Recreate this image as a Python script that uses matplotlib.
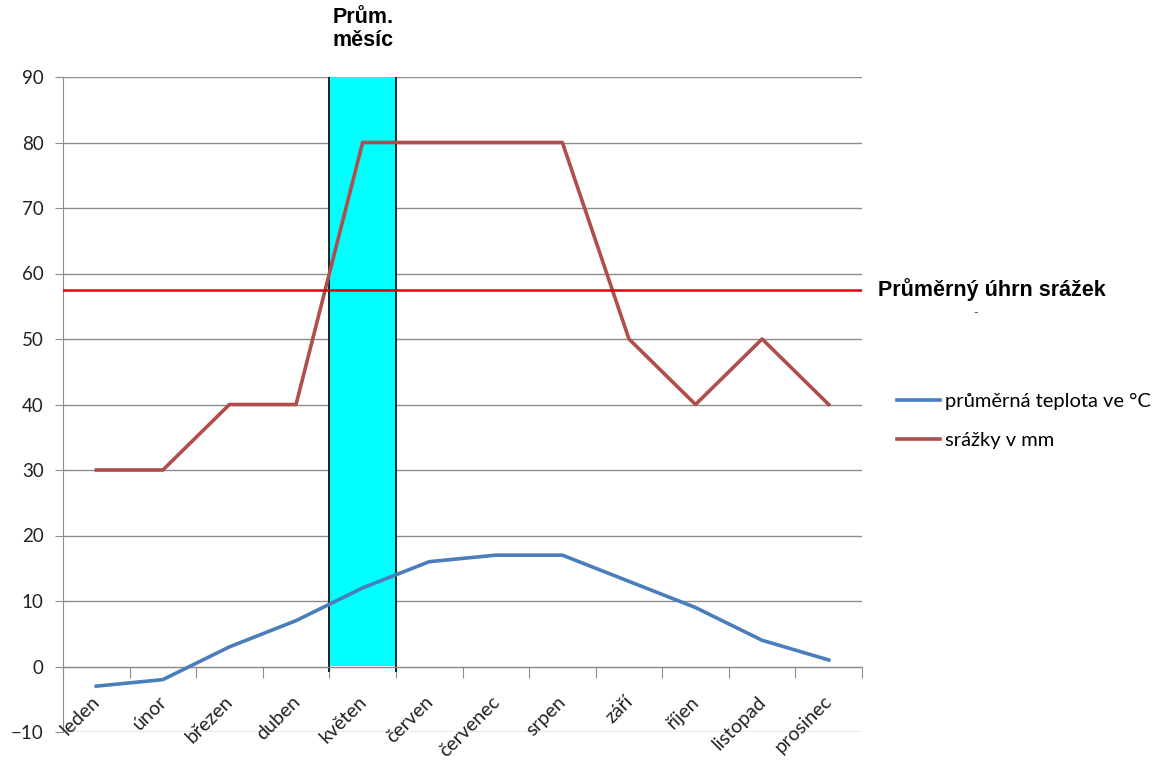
import matplotlib
matplotlib.use("Agg")
import matplotlib.pyplot as plt
import matplotlib.transforms as mtransforms
import numpy as np

months = ["leden", "únor", "březen", "duben", "květen", "červen",
          "červenec", "srpen", "září", "říjen", "listopad", "prosinec"]
temperature = [-3, -2, 3, 7, 12, 16, 17, 17, 13, 9, 4, 1]
precipitation = [30, 30, 40, 40, 80, 80, 80, 80, 50, 40, 50, 40]
avg_precip_level = 57.5
highlight_month = "květen"
y_ticks = list(range(-10, 91, 10))

plt.rcParams["font.family"] = ["Lato", "DejaVu Sans"]

fig = plt.figure(figsize=(11.70, 7.61), dpi=100)
ax = fig.add_axes([63 / 1170, 1 - 732 / 761, (862 - 63) / 1170, (732 - 77) / 761])

x = np.arange(len(months))
ax.set_xlim(-0.5, len(months) - 0.5)
ax.set_ylim(-10, 90)

# horizontal gridlines
ax.set_yticks(y_ticks)
ax.yaxis.grid(True, color="#8c8c8c", linewidth=1.0)
ax.set_axisbelow(True)

# highlighted month column
hi = months.index(highlight_month)
ax.fill_between([hi - 0.5, hi + 0.5], 0, 90, color="#00FFFF", zorder=1, linewidth=0)
ax.vlines([hi - 0.5, hi + 0.5], -0.9, 90, color="black", linewidth=1.2, zorder=2)

# series
ax.plot(x, temperature, color="#4A7EBB", linewidth=2.6, zorder=4,
        solid_joinstyle="round", label="průměrná teplota ve °C")
ax.plot(x, precipitation, color="#B04E4B", linewidth=2.6, zorder=4,
        solid_joinstyle="round", label="srážky v mm")

# average precipitation line
ax.axhline(avg_precip_level, color="#E0000F", linewidth=1.8, zorder=5)

# spines: category axis crosses at zero
for s in ["top", "right"]:
    ax.spines[s].set_visible(False)
ax.spines["left"].set_color("#8c8c8c")
ax.spines["bottom"].set_position(("data", 0))
ax.spines["bottom"].set_color("#8c8c8c")

ax.tick_params(axis="y", length=6, color="#8c8c8c", labelsize=13.5,
               labelcolor="#222222", pad=8)
ax.set_xticks(np.arange(-0.5, len(months), 1.0))
ax.set_xticklabels([])
ax.tick_params(axis="x", which="major", length=8, color="#8c8c8c", direction="out")

# rotated month labels under the zero line
for i, m in enumerate(months):
    ax.annotate(m, xy=(i, 0), xytext=(5, -19), textcoords="offset points",
                rotation=45, ha="right", va="top", fontsize=14, color="#222222")

# annotations
trans = mtransforms.blended_transform_factory(fig.transFigure, ax.transData)
ax.text(878 / 1170, avg_precip_level, "Průměrný úhrn srážek", transform=trans,
        fontsize=15.5, fontweight="bold", family=["Liberation Sans", "DejaVu Sans"],
        ha="left", va="center", color="black")
ax.text(973 / 1170, 54.0, "-", transform=trans, fontsize=9, color="#555555",
        ha="left", va="center")

fig.text(333 / 1170, 1 - 7 / 761, "Prům.\nměsíc", fontsize=15.5, fontweight="bold",
         family=["Liberation Sans", "DejaVu Sans"], ha="left", va="top",
         linespacing=1.15)

ax.legend(loc="center left", bbox_to_anchor=(897 / 1170, 1 - 421 / 761),
          bbox_transform=fig.transFigure, frameon=False, fontsize=14.5,
          handlelength=2.15, handletextpad=0.25, labelspacing=1.1,
          borderpad=0, borderaxespad=0)

fig.savefig("out.png", dpi=100)
